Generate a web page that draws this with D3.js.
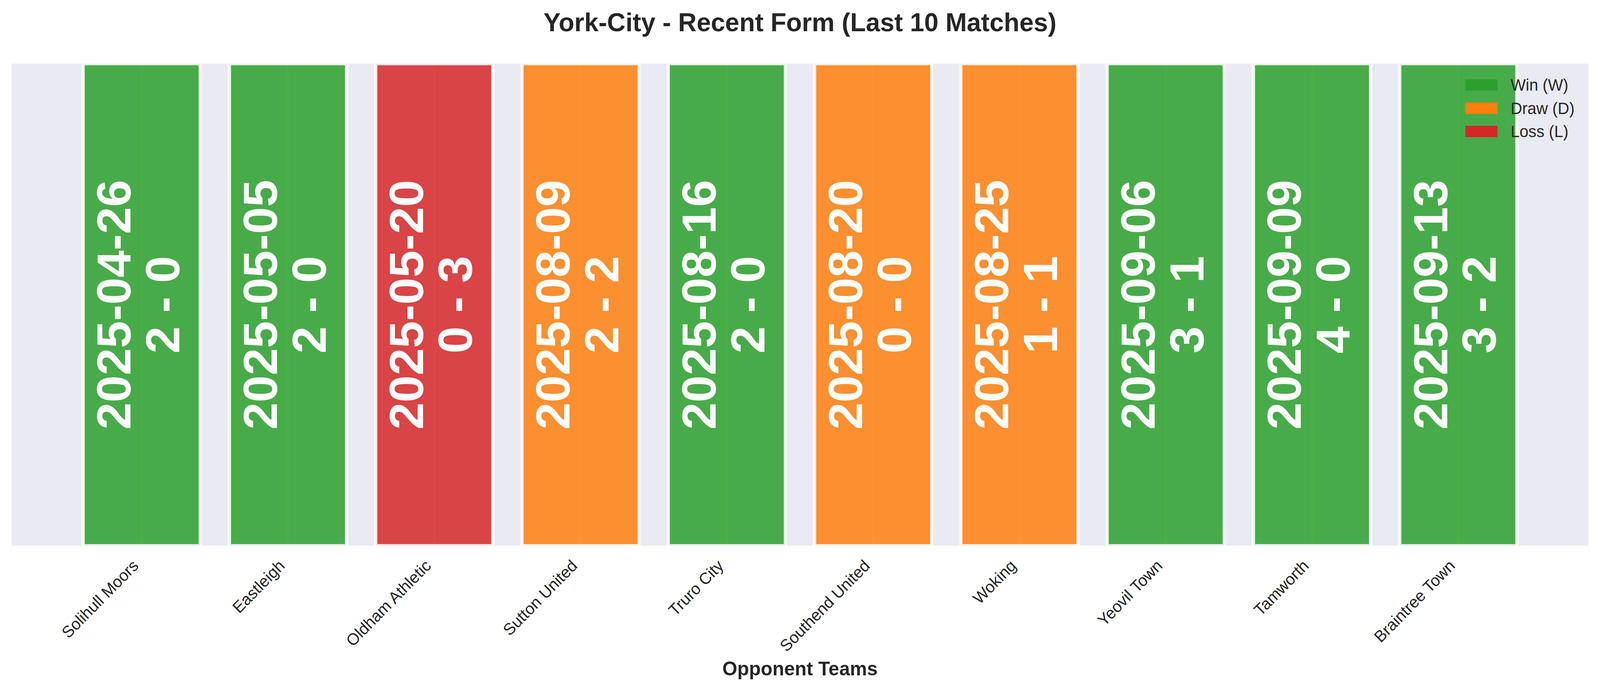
<!DOCTYPE html>
<html>
<head>
<meta charset="utf-8">
<script src="https://d3js.org/d3.v7.min.js"></script>
<style>
  html, body { margin: 0; padding: 0; background: #fff; overflow: hidden; }
  svg { display: block; font-family: "Liberation Sans", Arial, sans-serif; }
</style>
</head>
<body>
<div id="vis"></div>
<script>
const opponents = ['Solihull Moors', 'Eastleigh', 'Oldham Athletic', 'Sutton United', 'Truro City',
                   'Southend United', 'Woking', 'Yeovil Town', 'Tamworth', 'Braintree Town'];
const dates = ['2025-04-26', '2025-05-05', '2025-05-20', '2025-08-09', '2025-08-16',
               '2025-08-20', '2025-08-25', '2025-09-06', '2025-09-09', '2025-09-13'];
const goalsFor = [2, 2, 0, 2, 2, 0, 1, 3, 4, 3];
const goalsAgainst = [0, 0, 3, 2, 0, 0, 1, 1, 0, 2];
const results = ['W', 'W', 'L', 'D', 'W', 'D', 'D', 'W', 'W', 'W'];

const legendKeys = ['W', 'D', 'L'];
const legendLabels = ['Win (W)', 'Draw (D)', 'Loss (L)'];

const width = 4170;
const height = 1769;

const margin = {
  top: 163,
  bottom: height - 1397,
  left: 30,
  right: width - 4140
};

const color = d3.scaleOrdinal()
  .domain(legendKeys)
  .range(['#2ca02c', '#ff7f0e', '#d62728']);

const matches = opponents.map((opponent, i) => ({
  i,
  opponent,
  date: dates[i],
  score: `${goalsFor[i]} - ${goalsAgainst[i]}`,
  result: results[i]
}));

// matplotlib-like x margins: 5% of the bar extent on both sides
const barWidth = 0.8;
const extent = [-barWidth / 2, matches.length - 1 + barWidth / 2];
const pad = 0.05 * (extent[1] - extent[0]);

const x = d3.scaleLinear()
    .domain([extent[0] - pad, extent[1] + pad])
    .range([margin.left, width - margin.right]);

const y = d3.scaleLinear()
    .domain([0, 1])
    .range([height - margin.bottom, margin.top]);

// the drawing is laid out in 4170x1769 units and fitted to the window
const svg = d3.select('#vis').append('svg')
    .attr('width', window.innerWidth || width)
    .attr('height', window.innerHeight || height)
    .attr('viewBox', `0 0 ${width} ${height}`)
    .attr('preserveAspectRatio', 'none');

svg.append('defs').append('clipPath')
    .attr('id', 'plot-clip')
  .append('rect')
    .attr('x', margin.left)
    .attr('y', margin.top)
    .attr('width', width - margin.left - margin.right)
    .attr('height', height - margin.top - margin.bottom);

// plot background
svg.append('rect')
    .attr('x', margin.left)
    .attr('y', margin.top)
    .attr('width', width - margin.left - margin.right)
    .attr('height', height - margin.top - margin.bottom)
    .attr('fill', '#eaeaf2');

const plot = svg.append('g')
    .attr('clip-path', 'url(#plot-clip)');

// vertical grid lines at the ticks
plot.selectAll('.grid')
  .data(matches)
  .join('line')
    .attr('class', 'grid')
    .attr('x1', d => x(d.i))
    .attr('x2', d => x(d.i))
    .attr('y1', y(1))
    .attr('y2', y(0))
    .attr('stroke', '#fff')
    .attr('stroke-width', 4.2);

plot.selectAll('.bar')
  .data(matches)
  .join('rect')
    .attr('class', 'bar')
    .attr('x', d => x(d.i - barWidth / 2))
    .attr('width', d => x(d.i + barWidth / 2) - x(d.i - barWidth / 2))
    .attr('y', y(1))
    .attr('height', y(0) - y(1))
    .attr('fill', d => color(d.result))
    .attr('fill-opacity', 0.85)
    .attr('stroke', '#fff')
    .attr('stroke-opacity', 0.85)
    .attr('stroke-width', 8.3);

const labels = plot.selectAll('.bar-label')
  .data(matches)
  .join('text')
    .attr('class', 'bar-label')
    .attr('transform', d => `translate(${x(d.i)}, ${y(0.5)}) rotate(-90)`)
    .attr('text-anchor', 'middle')
    .attr('fill', '#fff')
    .attr('font-weight', 'bold')
    .attr('font-size', 125);

labels.append('tspan')
    .attr('x', 0)
    .attr('y', -29)
    .text(d => d.date);

labels.append('tspan')
    .attr('x', 0)
    .attr('y', 98)
    .text(d => d.score);

// x tick labels, rotated 45 degrees and right aligned
svg.append('g')
  .selectAll('text')
  .data(matches)
  .join('text')
    .attr('transform', d => `translate(${x(d.i) - 6}, ${y(0) + 54}) rotate(-45)`)
    .attr('text-anchor', 'end')
    .attr('fill', '#262626')
    .attr('font-size', 41.7)
    .text(d => d.opponent);

svg.append('text')
    .attr('x', (margin.left + width - margin.right) / 2)
    .attr('y', 1729)
    .attr('text-anchor', 'middle')
    .attr('fill', '#262626')
    .attr('font-weight', 'bold')
    .attr('font-size', 50)
    .text('Opponent Teams');

svg.append('text')
    .attr('x', (margin.left + width - margin.right) / 2)
    .attr('y', 80)
    .attr('text-anchor', 'middle')
    .attr('fill', '#262626')
    .attr('font-weight', 'bold')
    .attr('font-size', 66.7)
    .text('York-City - Recent Form (Last 10 Matches)');

// legend, upper right, no frame
const legend = svg.append('g')
    .attr('transform', 'translate(3819, 203)');

const entries = legend.selectAll('g')
  .data(legendKeys)
  .join('g')
    .attr('transform', (d, i) => `translate(0, ${i * 59.5})`);

entries.append('rect')
    .attr('width', 84)
    .attr('height', 29)
    .attr('fill', d => color(d));

entries.append('text')
    .attr('x', 118)
    .attr('y', 29)
    .attr('fill', '#262626')
    .attr('font-size', 41.7)
    .text((d, i) => legendLabels[i]);
</script>
</body>
</html>
